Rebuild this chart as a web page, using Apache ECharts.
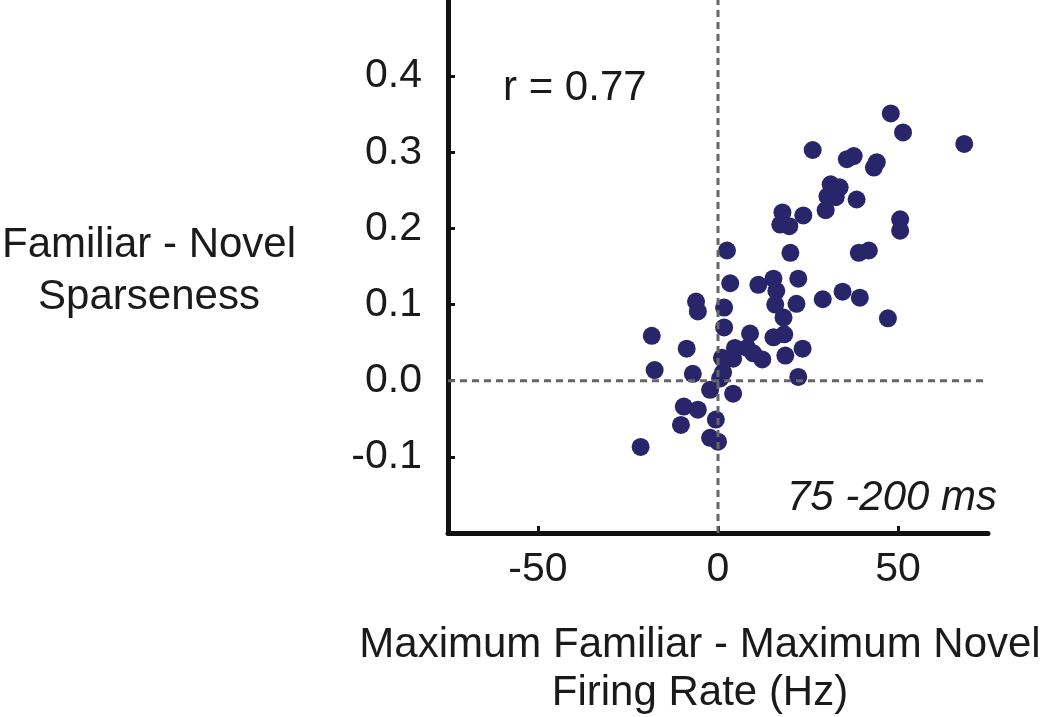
<!DOCTYPE html>
<html>
<head>
<meta charset="utf-8">
<script src="https://cdn.jsdelivr.net/npm/echarts@6/dist/echarts.min.js"></script>
<style>
  html, body { margin: 0; padding: 0; background: #fff; }
  #chart { width: 1050px; height: 717px; }
</style>
</head>
<body>
<div id="chart"></div>
<script>
// firing rate difference (Hz), max familiar - max novel
var rateDiff = [
  -21.5, -18.4, -17.6, -6.1, -5.6, -8.7, -7.0, -9.5, -5.6, -10.3,
  -2.2, 0.0, -0.6, -2.2, 4.2, 0.6, 1.4, 1.1, 4.2, 4.7,
  1.7, 1.7, 2.5, 3.4, 8.9, 8.1, 9.8, 12.3, 15.4, 18.4,
  18.7, 23.5, 22.3, 11.2, 15.4, 16.2, 22.3, 15.9, 21.8, 18.2,
  29.1, 34.6, 39.4, 47.2, 20.1, 39.1, 41.9, 50.6, 50.6, 17.9,
  17.3, 19.8, 23.7, 29.9, 30.4, 32.7, 31.3, 33.8, 38.5, 26.3,
  35.8, 37.7, 43.3, 44.1, 48.0, 51.4, 68.4
];
// sparseness difference, familiar - novel
var sparseDiff = [
  -0.087, 0.059, 0.014, 0.104, 0.091, 0.042, 0.009, -0.034, -0.038, -0.058,
  -0.075, -0.080, -0.051, -0.012, -0.017, 0.003, 0.011, 0.030, 0.029, 0.043,
  0.070, 0.096, 0.171, 0.128, 0.062, 0.043, 0.036, 0.028, 0.057, 0.061,
  0.033, 0.042, 0.005, 0.126, 0.134, 0.118, 0.134, 0.100, 0.101, 0.083,
  0.107, 0.117, 0.109, 0.082, 0.168, 0.168, 0.171, 0.212, 0.197, 0.221,
  0.205, 0.203, 0.217, 0.224, 0.242, 0.241, 0.258, 0.254, 0.238, 0.303,
  0.291, 0.295, 0.280, 0.287, 0.351, 0.326, 0.311
];
var xTicks = [-50, 0, 50];
var yTicks = [-0.1, 0, 0.1, 0.2, 0.3, 0.4];

var points = rateDiff.map(function (x, i) { return [x, sparseDiff[i]]; });
var font = '"Liberation Sans", Arial, sans-serif';
var dashStyle = {color: '#666', width: 3, type: [7, 5]};

var chart = echarts.init(document.getElementById('chart'));
chart.setOption({
  animation: false,
  grid: {left: 448, top: 0, width: 540, height: 533},
  xAxis: {
    type: 'value', min: -75, max: 75,
    splitLine: {show: false},
    axisLine: {onZero: false, lineStyle: {color: '#111', width: 5}},
    axisTick: {inside: true, length: 7, customValues: xTicks, lineStyle: {color: '#111', width: 3}},
    axisLabel: {customValues: xTicks, margin: 16, color: '#1a1a1a', fontSize: 41, fontFamily: font}
  },
  yAxis: {
    type: 'value', min: -0.2, max: 0.5,
    splitLine: {show: false},
    axisLine: {onZero: false, lineStyle: {color: '#111', width: 5}},
    axisTick: {inside: true, length: 7, customValues: yTicks, lineStyle: {color: '#111', width: 3}},
    axisLabel: {
      customValues: yTicks, margin: 26, color: '#1a1a1a', fontSize: 41, fontFamily: font,
      formatter: function (v) { return v.toFixed(1); }
    }
  },
  series: [
    {
      type: 'scatter', data: points, symbolSize: 18, z: 2,
      itemStyle: {color: '#28256a', opacity: 1}
    },
    {
      type: 'line', data: [[0, -0.2], [0, 0.5]], symbol: 'none', z: 5,
      lineStyle: dashStyle, silent: true
    },
    {
      type: 'line', data: [[-75, 0], [75, 0]], symbol: 'none', z: 5,
      lineStyle: dashStyle, silent: true
    }
  ],
  graphic: [
    {type: 'text', x: 503, y: 88, style: {
      text: 'r = 0.77', font: '42px ' + font, fill: '#1a1a1a', verticalAlign: 'middle'}},
    {type: 'text', x: 997, y: 498, style: {
      text: '75 -200 ms', font: 'italic 42px ' + font, fill: '#1a1a1a', align: 'right', verticalAlign: 'middle'}},
    {type: 'text', x: 149, y: 271, style: {
      text: 'Familiar - Novel\nSparseness', font: '42px ' + font, fill: '#1a1a1a',
      align: 'center', verticalAlign: 'middle', lineHeight: 52}},
    {type: 'text', x: 700, y: 669, style: {
      text: 'Maximum Familiar - Maximum Novel\nFiring Rate (Hz)', font: '42px ' + font, fill: '#1a1a1a',
      align: 'center', verticalAlign: 'middle', lineHeight: 48}}
  ]
});
</script>
</body>
</html>
